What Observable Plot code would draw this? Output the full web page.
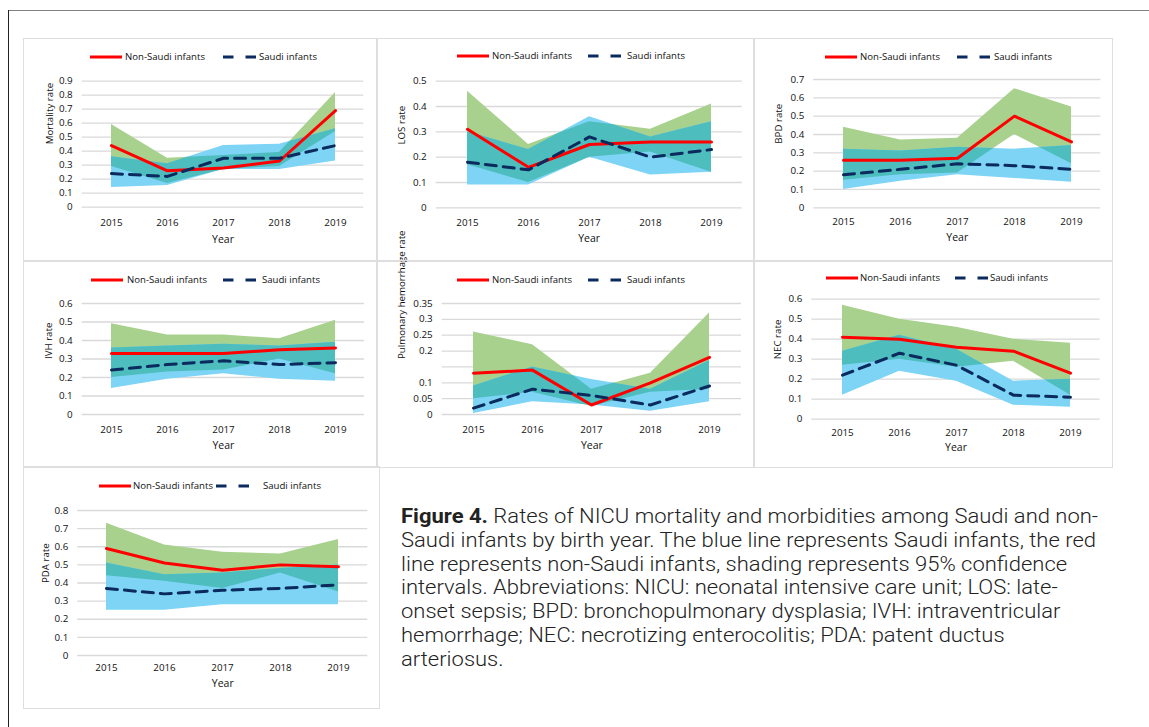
<!DOCTYPE html>
<html><head><meta charset="utf-8">
<script src="https://cdn.jsdelivr.net/npm/d3@7"></script>
<script src="https://cdn.jsdelivr.net/npm/@observablehq/plot@0.6"></script>
<style>
body{margin:0;background:#fff;}
#root{position:relative;width:1149px;height:727px;overflow:hidden;font-family:"Open Sans",sans-serif;}
.abs{position:absolute;}
.pborder{position:absolute;box-sizing:border-box;border:1.5px solid #dedede;pointer-events:none;}
.leg{position:absolute;font-size:9.6px;color:#111;white-space:nowrap;line-height:12px;}
#caption{position:absolute;left:401px;top:505px;font-family:Roboto,sans-serif;font-weight:300;font-size:20px;line-height:23.8px;color:#222;white-space:nowrap;transform:scaleX(1.1);transform-origin:0 0;}
#caption b{font-weight:700;}
</style></head>
<body><div id="root">
<div class="abs" style="left:8px;top:9.5px;width:1141px;border-top:1.5px solid #808080;"></div>
<div class="abs" style="left:7.5px;top:10px;height:717px;border-left:1.5px solid #222;"></div>
<div id="caption"><b>Figure 4.</b> Rates of NICU mortality and morbidities among Saudi and non-<br>Saudi infants by birth year. The blue line represents Saudi infants, the red<br>line represents non-Saudi infants, shading represents 95% confidence<br>intervals. Abbreviations: NICU: neonatal intensive care unit; LOS: late-<br>onset sepsis; BPD: bronchopulmonary dysplasia; IVH: intraventricular<br>hemorrhage; NEC: necrotizing enterocolitis; PDA: patent ductus<br>arteriosus.</div>
</div>
<script>
const years = ["2015","2016","2017","2018","2019"];
const seriesNames = ["Non-Saudi infants","Saudi infants"];

const mortalityNonSaudi = [0.44,0.26,0.28,0.33,0.69];
const mortalitySaudi = [0.24,0.22,0.35,0.35,0.44];
const mortalityNonSaudiLow = [0.29,0.17,0.27,0.29,0.54];
const mortalityNonSaudiHigh = [0.59,0.35,0.37,0.39,0.82];
const mortalitySaudiLow = [0.14,0.155,0.27,0.27,0.33];
const mortalitySaudiHigh = [0.36,0.31,0.44,0.45,0.56];
const mortalityTicks = [0,0.1,0.2,0.3,0.4,0.5,0.6,0.7,0.8,0.9];

const losNonSaudi = [0.31,0.16,0.25,0.26,0.26];
const losSaudi = [0.18,0.15,0.28,0.20,0.23];
const losNonSaudiLow = [0.17,0.10,0.20,0.22,0.14];
const losNonSaudiHigh = [0.46,0.25,0.34,0.31,0.41];
const losSaudiLow = [0.09,0.09,0.20,0.13,0.14];
const losSaudiHigh = [0.30,0.23,0.36,0.28,0.34];
const losTicks = [0,0.1,0.2,0.3,0.4,0.5];

const bpdNonSaudi = [0.26,0.26,0.27,0.50,0.36];
const bpdSaudi = [0.18,0.21,0.24,0.23,0.21];
const bpdNonSaudiLow = [0.15,0.18,0.19,0.40,0.24];
const bpdNonSaudiHigh = [0.44,0.37,0.38,0.65,0.55];
const bpdSaudiLow = [0.10,0.145,0.18,0.16,0.14];
const bpdSaudiHigh = [0.32,0.31,0.33,0.32,0.34];
const bpdTicks = [0,0.1,0.2,0.3,0.4,0.5,0.6,0.7];

const ivhNonSaudi = [0.33,0.33,0.33,0.35,0.36];
const ivhSaudi = [0.24,0.27,0.29,0.27,0.28];
const ivhNonSaudiLow = [0.20,0.23,0.24,0.30,0.22];
const ivhNonSaudiHigh = [0.49,0.43,0.43,0.41,0.51];
const ivhSaudiLow = [0.14,0.19,0.22,0.19,0.18];
const ivhSaudiHigh = [0.36,0.37,0.38,0.37,0.39];
const ivhTicks = [0,0.1,0.2,0.3,0.4,0.5,0.6];

const phNonSaudi = [0.13,0.14,0.03,0.10,0.18];
const phSaudi = [0.02,0.08,0.06,0.03,0.09];
const phNonSaudiLow = [0.05,0.07,0.025,0.07,0.08];
const phNonSaudiHigh = [0.26,0.22,0.08,0.13,0.32];
const phSaudiLow = [0.003,0.04,0.03,0.01,0.04];
const phSaudiHigh = [0.09,0.15,0.11,0.08,0.17];
const phGridTicks = [0,0.05,0.1,0.15,0.2,0.25,0.3,0.35];
const phTickLabels = [0,0.05,0.1,0.2,0.25,0.3,0.35];

const necNonSaudi = [0.41,0.40,0.36,0.34,0.23];
const necSaudi = [0.22,0.33,0.27,0.12,0.11];
const necNonSaudiLow = [0.27,0.30,0.26,0.29,0.12];
const necNonSaudiHigh = [0.57,0.50,0.46,0.40,0.38];
const necSaudiLow = [0.12,0.24,0.19,0.07,0.06];
const necSaudiHigh = [0.34,0.42,0.35,0.19,0.20];
const necTicks = [0,0.1,0.2,0.3,0.4,0.5,0.6];

const pdaNonSaudi = [0.59,0.51,0.47,0.50,0.49];
const pdaSaudi = [0.37,0.34,0.36,0.37,0.39];
const pdaNonSaudiLow = [0.44,0.41,0.37,0.455,0.35];
const pdaNonSaudiHigh = [0.73,0.61,0.57,0.56,0.64];
const pdaSaudiLow = [0.25,0.25,0.28,0.28,0.28];
const pdaSaudiHigh = [0.51,0.445,0.455,0.48,0.50];
const pdaTicks = [0,0.1,0.2,0.3,0.4,0.5,0.6,0.7,0.8];

const RED = "#ff0000", NAVY = "#0b2a5e", GREEN = "#a9d18e", BLUE = "#7dd4f5", TEAL = "#4dbdbd";

const panels = [
  {label:"Mortality rate", ns:mortalityNonSaudi, sa:mortalitySaudi, nsLo:mortalityNonSaudiLow, nsHi:mortalityNonSaudiHigh, saLo:mortalitySaudiLow, saHi:mortalitySaudiHigh, ticks:mortalityTicks,
   box:[24,39,353,222], plot:[81.7,80.7,363.3,206.7], xlab:15.3, year:35.3, ylab:-32.7, leg:[90,125,223,259,57]},
  {label:"LOS rate", ns:losNonSaudi, sa:losSaudi, nsLo:losNonSaudiLow, nsHi:losNonSaudiHigh, saLo:losSaudiLow, saHi:losSaudiHigh, ticks:losTicks,
   box:[377,39,377,222], plot:[435.7,80.7,741.7,207.3], xlab:14.4, year:34.4, ylab:-34, leg:[457,492,588,627,56]},
  {label:"BPD rate", ns:bpdNonSaudi, sa:bpdSaudi, nsLo:bpdNonSaudiLow, nsHi:bpdNonSaudiHigh, saLo:bpdSaudiLow, saHi:bpdSaudiHigh, ticks:bpdTicks,
   box:[754,39,358,222], plot:[813.3,79,1100.3,207.3], xlab:13.4, year:32.7, ylab:-34.6, leg:[825,860,957,994,56.7]},
  {label:"IVH rate", ns:ivhNonSaudi, sa:ivhSaudi, nsLo:ivhNonSaudiLow, nsHi:ivhNonSaudiHigh, saLo:ivhSaudiLow, saHi:ivhSaudiHigh, ticks:ivhTicks,
   box:[24,261,353,206], plot:[81.7,303,364,414], xlab:14.7, year:34.7, ylab:-33.7, leg:[91,127,223,262,279.7]},
  {label:"Pulmonary hemorrhage rate", ns:phNonSaudi, sa:phSaudi, nsLo:phNonSaudiLow, nsHi:phNonSaudiHigh, saLo:phSaudiLow, saHi:phSaudiHigh, ticks:phGridTicks, labels:phTickLabels,
   box:[377,261,377,206], plot:[441.7,303,741,414], xlab:14.7, year:34.7, ylab:-40, leg:[457,492,588,627,279.7]},
  {label:"NEC rate", ns:necNonSaudi, sa:necSaudi, nsLo:necNonSaudiLow, nsHi:necNonSaudiHigh, saLo:necSaudiLow, saHi:necSaudiHigh, ticks:necTicks,
   box:[754,261,358,206], plot:[811.3,298.7,1099.7,418.7], xlab:13.3, year:32, ylab:-34.3, leg:[826,860,955,990,278]},
  {label:"PDA rate", ns:pdaNonSaudi, sa:pdaSaudi, nsLo:pdaNonSaudiLow, nsHi:pdaNonSaudiHigh, saLo:pdaSaudiLow, saHi:pdaSaudiHigh, ticks:pdaTicks,
   box:[24,467,355,241], plot:[77.3,510,367.3,655], xlab:11.7, year:31.7, ylab:-32.3, leg:[99,133,216,263,486]}
];

const root = document.getElementById("root");
const fmt = d => String(+d.toFixed(2));
let clipId = 0;
const FONT = "'Open Sans', sans-serif";

panels.forEach(s => {
  const rows = years.map((y,i) => ({year:y, ns:s.ns[i], sa:s.sa[i], nsLo:s.nsLo[i], nsHi:s.nsHi[i], saLo:s.saLo[i], saHi:s.saHi[i]}));
  const [L,T,W,H] = s.box;
  const [x0,y0,x1,y1] = s.plot;
  const svg = Plot.plot({
    width: W, height: H,
    marginLeft: x0 - L, marginTop: y0 - T, marginRight: L + W - x1, marginBottom: T + H - y1,
    style: {fontFamily: FONT, fontSize: "9.5px", color: "#111", background: "transparent", overflow: "visible"},
    x: {type: "point", domain: years, padding: 0.5},
    y: {domain: [0, d3.max(s.ticks)]},
    marks: [
      Plot.gridY(s.ticks, {stroke: "#d9d9d9", strokeOpacity: 1, strokeWidth: 1.3}),
      Plot.areaY(rows, {x: "year", y1: "nsLo", y2: "nsHi", fill: GREEN}),
      Plot.areaY(rows, {x: "year", y1: "saLo", y2: "saHi", fill: BLUE}),
      Plot.areaY(rows, {x: "year", y1: "nsLo", y2: "nsHi", fill: TEAL}),
      Plot.lineY(rows, {x: "year", y: "ns", stroke: RED, strokeWidth: 3}),
      Plot.lineY(rows, {x: "year", y: "sa", stroke: NAVY, strokeWidth: 3, strokeDasharray: "11,7"}),
      Plot.axisX({tickSize: 0, tickPadding: s.xlab - 3.3, label: null, fontSize: 9.8}),
      Plot.axisY(s.labels || s.ticks, {tickSize: 0, tickPadding: 9.5, tickFormat: fmt, label: null, fontSize: 9.8}),
      Plot.text(["Year"], {frameAnchor: "bottom", dy: s.year, fontSize: 10.5}),
      Plot.text([s.label], {frameAnchor: "left", rotate: -90, dx: s.ylab, fontSize: 9.7})
    ]
  });
  // overlap of the two confidence bands: the non-Saudi band clipped by the Saudi band
  const areas = svg.querySelectorAll('g[aria-label="area"]');
  if (areas.length === 3) {
    const bluePath = areas[1].querySelector("path");
    const id = "ovl" + (clipId++);
    const ns = "http://www.w3.org/2000/svg";
    const cp = document.createElementNS(ns, "clipPath");
    cp.setAttribute("id", id);
    const p = document.createElementNS(ns, "path");
    p.setAttribute("d", bluePath.getAttribute("d"));
    cp.appendChild(p);
    let defs = svg.querySelector("defs");
    if (!defs) { defs = document.createElementNS(ns, "defs"); svg.insertBefore(defs, svg.firstChild); }
    defs.appendChild(cp);
    areas[2].querySelectorAll("path").forEach(el => el.setAttribute("clip-path", `url(#${id})`));
  }
  svg.style.position = "absolute";
  svg.style.left = L + "px";
  svg.style.top = T + "px";
  root.appendChild(svg);

  const b = document.createElement("div");
  b.className = "pborder";
  b.style.left = (L - 0.75) + "px"; b.style.top = (T - 0.75) + "px";
  b.style.width = (W + 1.5) + "px"; b.style.height = (H + 1.5) + "px";
  root.appendChild(b);

  const [rx, rt, dxs, dt, ly] = s.leg;
  const mk = (html, left) => {
    const d = document.createElement("div");
    d.className = "leg"; d.style.left = left + "px"; d.style.top = (ly - 6) + "px";
    d.innerHTML = html; root.appendChild(d);
  };
  mk(`<svg width="32" height="12" style="display:block"><line x1="0" x2="32" y1="6" y2="6" stroke="${RED}" stroke-width="3"/></svg>`, rx);
  mk(seriesNames[0], rt);
  mk(`<svg width="33" height="12" style="display:block"><line x1="0" x2="33" y1="6" y2="6" stroke="${NAVY}" stroke-width="3" stroke-dasharray="10.5,12"/></svg>`, dxs);
  mk(seriesNames[1], dt);
});
</script>
</body></html>
